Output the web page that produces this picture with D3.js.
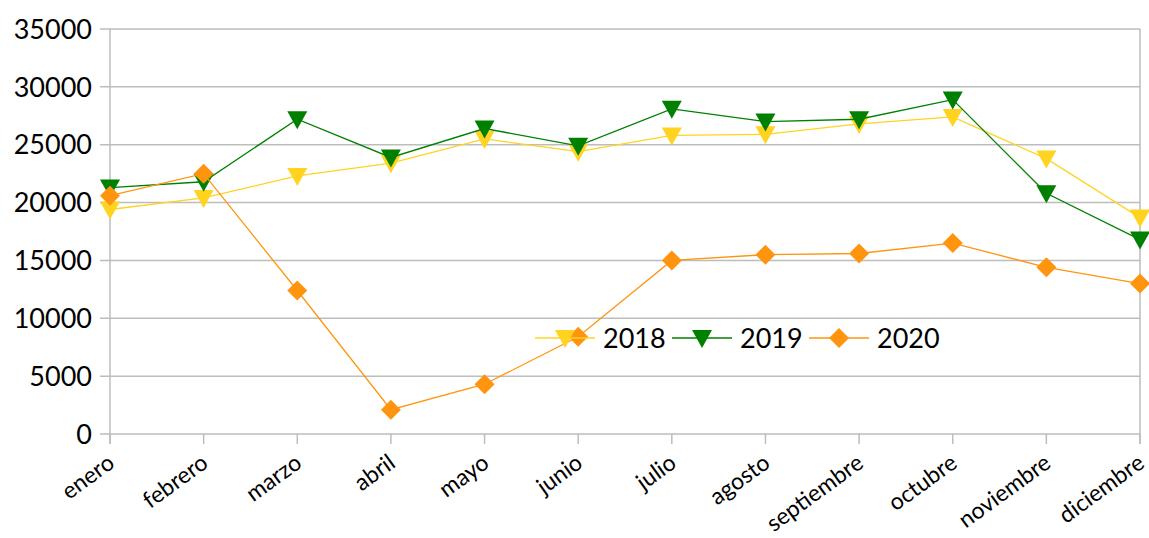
<!DOCTYPE html>
<html><head><meta charset="utf-8">
<script src="https://cdn.jsdelivr.net/npm/d3@7"></script>
<style>body{margin:0;background:#fff}svg{display:block}text{font-family:Lato,"Open Sans",sans-serif;fill:#000}</style>
</head><body><svg id="c" width="1149" height="538"></svg>
<script>
const months = ["enero","febrero","marzo","abril","mayo","junio","julio","agosto","septiembre","octubre","noviembre","diciembre"];
const yTicks = [0,5000,10000,15000,20000,25000,30000,35000];
const s2018 = [19400,20400,22300,23400,25500,24400,25800,25900,26800,27400,23800,18700];
const s2019 = [21300,21800,27200,23900,26400,24900,28100,27000,27200,28900,20800,16800];
const s2020 = [20600,22500,12400,2100,4300,8400,15000,15500,15600,16500,14400,13000];
const seriesNames = ["2018","2019","2020"];
const seriesColors = ["#ffd320","#008000","#ff950e"];
const seriesShapes = ["tri","tri","dia"];
const seriesData = [s2018,s2019,s2020];

const svg = d3.select("#c");
const x = d3.scalePoint().domain(months).range([110,1140]);
const y = d3.scaleLinear().domain([0,35000]).range([434,29]);

svg.append("g").selectAll("line").data(yTicks).join("line")
  .attr("x1",100).attr("x2",1140).attr("y1",d=>y(d)).attr("y2",d=>y(d))
  .attr("stroke","#bdbdbd").attr("stroke-width",1.5);
svg.append("line").attr("x1",110).attr("x2",110).attr("y1",y(35000)).attr("y2",y(0)+10).attr("stroke","#bdbdbd").attr("stroke-width",1.5);
svg.append("line").attr("x1",1140).attr("x2",1140).attr("y1",y(35000)).attr("y2",y(0)+10).attr("stroke","#bdbdbd").attr("stroke-width",1.5);
svg.append("g").selectAll("line").data(months).join("line")
  .attr("x1",d=>x(d)).attr("x2",d=>x(d)).attr("y1",y(0)).attr("y2",y(0)+10)
  .attr("stroke","#bdbdbd").attr("stroke-width",1.5);
svg.append("g").selectAll("text").data(yTicks).join("text")
  .attr("x",92).attr("y",d=>y(d)).attr("dy","0.36em").attr("text-anchor","end")
  .attr("font-size",27).text(d=>d);
svg.append("g").selectAll("text").data(months).join("text")
  .attr("text-anchor","end").attr("font-size",23)
  .attr("transform",d=>`translate(${x(d)+6},${y(0)+32}) rotate(-36)`)
  .text(d=>d);

function marker(g, shape, color){
  if(shape==="tri"){
    g.append("path").attr("d","M-10,-8L10,-8L0,10Z").attr("fill",color);
  } else {
    g.append("path").attr("d","M0,-10L10,0L0,10L-10,0Z").attr("fill",color);
  }
}
const line = d3.line().x((d,i)=>x(months[i])).y(d=>y(d));
seriesData.forEach((data,k)=>{
  const g = svg.append("g");
  g.append("path").attr("d",line(data)).attr("fill","none").attr("stroke",seriesColors[k]).attr("stroke-width",1.3);
  data.forEach((v,i)=>{
    marker(g.append("g").attr("transform",`translate(${x(months[i])},${y(v)})`), seriesShapes[k], seriesColors[k]);
  });
});

const legX = [535,672,809];
seriesNames.forEach((n,k)=>{
  const g = svg.append("g").attr("transform",`translate(${legX[k]},338)`);
  g.append("line").attr("x1",0).attr("x2",60).attr("stroke",seriesColors[k]).attr("stroke-width",1.3);
  marker(g.append("g").attr("transform","translate(30,0)"), seriesShapes[k], seriesColors[k]);
  g.append("text").attr("x",68).attr("dy","0.36em").attr("font-size",27).text(n);
});
</script></body></html>
